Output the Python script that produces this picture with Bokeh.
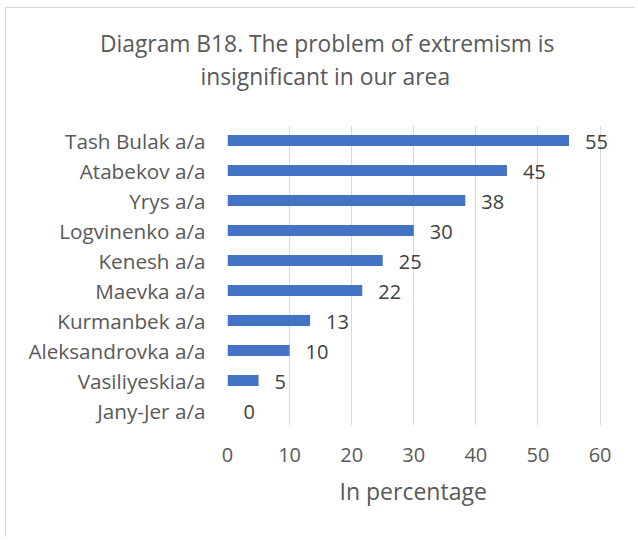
from bokeh.plotting import figure
from bokeh.models import ColumnDataSource, LabelSet, Title, FactorRange, Range1d, FixedTicker
from bokeh.core.properties import value
from bokeh.embed import file_html
from bokeh.resources import INLINE

categories = ["Tash Bulak a/a", "Atabekov a/a", "Yrys a/a", "Logvinenko a/a", "Kenesh a/a",
              "Maevka a/a", "Kurmanbek a/a", "Aleksandrovka a/a", "Vasiliyeskia/a", "Jany-Jer a/a"]
values = [55, 45, 38.3, 30, 25, 21.7, 13.3, 10, 5, 0]
x_ticks = [0, 10, 20, 30, 40, 50, 60]
title_lines = ["Diagram B18. The problem of extremism is", "insignificant in our area"]
x_label = "In percentage"

FONT = "Open Sans"
GREY = "#595959"

src = ColumnDataSource(dict(cat=categories, val=values,
                            lab=[str(int(round(v))) for v in values]))

# content origin at page (6, 8); frame: x 227..612.4 (0..62), y 125.5..425
p = figure(width=630, height=530, output_backend="svg", toolbar_location=None,
           y_range=FactorRange(factors=list(reversed(categories)), range_padding=0),
           x_range=Range1d(0, 62),
           min_border_left=221, min_border_right=24, min_border_top=117, min_border_bottom=113)

p.styles = {"margin-left": "5px", "margin-top": "7px",
            "border-left": "1px solid #d9d9d9", "border-top": "1px solid #d9d9d9"}

p.hbar(y="cat", right="val", left=0, height=0.36, source=src,
       fill_color="#4472C4", line_color=None)

labels = LabelSet(x="val", y="cat", text="lab", source=src, x_offset=16, y_offset=-1,
                  text_baseline="middle", text_align="left",
                  text_font=value(FONT), text_font_size="20px", text_color="#404040")
p.add_layout(labels)

# spacer between plot and title, then the two title lines
spacer = Title(text=" ", text_font_size="1px", standoff=31)
t2 = Title(text=title_lines[1], align="left", offset=-27, text_font=FONT, text_font_size="22.8px",
           text_font_style="normal", text_color=GREY, standoff=0)
t1 = Title(text=title_lines[0], align="left", offset=-127.5, text_font=FONT, text_font_size="22.8px",
           text_font_style="normal", text_color=GREY, standoff=0)
p.add_layout(spacer, "above")
p.add_layout(t2, "above")
p.add_layout(t1, "above")

# x axis title
xt = Title(text=x_label, align="left", offset=112, vertical_align="top", text_font=FONT,
           text_font_size="23px", text_font_style="normal", text_color=GREY, standoff=21)
p.add_layout(xt, "below")

p.outline_line_color = None
p.background_fill_color = "white"
p.border_fill_color = "white"

p.xgrid.grid_line_color = "#d9d9d9"
p.xgrid.grid_line_width = 1
p.xgrid.ticker = FixedTicker(ticks=x_ticks)
p.ygrid.grid_line_color = None

p.xaxis.ticker = FixedTicker(ticks=x_ticks)
p.xaxis.axis_line_color = None
p.xaxis.major_tick_line_color = None
p.xaxis.minor_tick_line_color = None
p.xaxis.major_tick_out = 0
p.xaxis.major_tick_in = 0
p.xaxis.major_label_standoff = 22
p.xaxis.major_label_text_font = FONT
p.xaxis.major_label_text_font_size = "20px"
p.xaxis.major_label_text_color = GREY

p.yaxis.axis_line_color = None
p.yaxis.major_tick_line_color = None
p.yaxis.major_tick_out = 0
p.yaxis.major_tick_in = 0
p.yaxis.major_label_standoff = 22
p.yaxis.major_label_text_font = FONT
p.yaxis.major_label_text_font_size = "20.7px"
p.yaxis.major_label_text_color = GREY

open("out.html", "w").write(file_html(p, INLINE))
